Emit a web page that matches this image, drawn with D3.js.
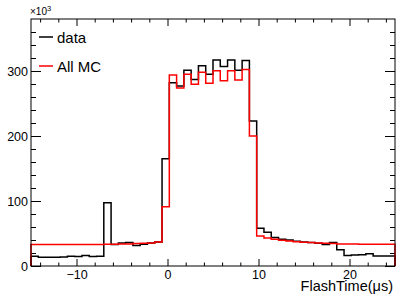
<!DOCTYPE html>
<html>
<head>
<meta charset="utf-8">
<script src="https://cdn.jsdelivr.net/npm/d3@7"></script>
<style>
	body { margin: 0; background: #fff; }
	svg { display: block; font-family: 'Liberation Sans', Arial, sans-serif; }
</style>
</head>
<body>
<script>
// data (counts in units of 10^3, 50 bins of 0.8 us from -15 to 25)
var binLow = -15;
var binWidth = 0.8;
var dataCounts = [
	15, 13.5, 13.5, 13.5, 14, 15, 14.5, 16, 14.5, 15,
	97.5, 33, 35.5, 36, 31.5, 33.5, 35.5, 37, 165, 282,
	277, 301, 287, 308, 295, 317, 307, 317, 301, 316,
	223, 58, 52, 44, 41, 40, 38, 37, 36, 35,
	33, 36, 25, 16, 17, 17.5, 19, 15.5, 15.5, 15.5
];
var mcCounts = [
	33, 33, 33, 33, 33, 33, 33, 33, 33, 33,
	33.5, 33.5, 34, 34, 34.5, 35, 35.5, 37, 91, 294,
	274, 295, 279.5, 298, 281, 300.5, 285, 300.5, 286, 302.5,
	200, 46, 43, 41, 39.5, 38.5, 37.5, 36.5, 36, 35.5,
	35, 34.5, 34, 34, 34, 33.5, 33.5, 33.5, 33.5, 33.5
];
var xMajorTicks = [-10, 0, 10, 20];
var yMajorTicks = [0, 100, 200, 300];
var legendItems = [
	{ label: 'data', color: '#000' },
	{ label: 'All MC', color: '#ff0000' }
];

var margin = { top: 19, right: 1, bottom: 29, left: 31 };
var width = 396 - margin.left - margin.right;
var height = 295 - margin.top - margin.bottom;

var svg = d3.select('body')
	.append('svg')
	.attr('width', 396)
	.attr('height', 295);

var g = svg.append('g')
	.attr('transform', 'translate(' + margin.left + ',' + margin.top + ')');

var x = d3.scaleLinear().domain([-15, 25]).range([0, width]);
var y = d3.scaleLinear().domain([0, 380]).range([height, 0]);

// axes, ROOT style ticks inside the frame on all four sides
var xMinor = d3.range(-14, 25, 2).filter(function (v) { return v % 10 !== 0; });
var yMinor = d3.range(20, 380, 20).filter(function (v) { return v % 100 !== 0; });

function drawAxis (axis, transform, cls) {
	var a = g.append('g')
		.attr('class', cls)
		.attr('transform', transform)
		.call(axis);
	a.select('.domain').remove();
	a.selectAll('line').attr('stroke', '#000');
	return a;
}

drawAxis(d3.axisBottom(x).tickValues(xMajorTicks).tickSize(-7).tickPadding(4.5)
	.tickFormat(d3.format('d')), 'translate(0,' + height + ')', 'x axis');
drawAxis(d3.axisBottom(x).tickValues(xMinor).tickSize(-3.5).tickFormat(''), 'translate(0,' + height + ')', 'x minor');
drawAxis(d3.axisTop(x).tickValues(xMajorTicks).tickSize(-7).tickFormat(''), 'translate(0,0)', 'x2 axis');
drawAxis(d3.axisTop(x).tickValues(xMinor).tickSize(-3.5).tickFormat(''), 'translate(0,0)', 'x2 minor');

drawAxis(d3.axisLeft(y).tickValues(yMajorTicks).tickSize(-10).tickPadding(3),
	'translate(0,0)', 'y axis');
drawAxis(d3.axisLeft(y).tickValues(yMinor).tickSize(-5).tickFormat(''), 'translate(0,0)', 'y minor');
drawAxis(d3.axisRight(y).tickValues(yMajorTicks).tickSize(-10).tickFormat(''), 'translate(' + width + ',0)', 'y2 axis');
drawAxis(d3.axisRight(y).tickValues(yMinor).tickSize(-5).tickFormat(''), 'translate(' + width + ',0)', 'y2 minor');

svg.selectAll('.axis text')
	.attr('font-size', '12.5px')
	.attr('font-family', "'Liberation Sans', Arial, sans-serif")
	.attr('fill', '#000');

// histogram outline, closed to zero at both ends
function histPath (counts) {
	var pts = [[x(binLow), y(0)]];
	counts.forEach(function (c, i) {
		var lo = binLow + i * binWidth;
		pts.push([x(lo), y(c)]);
		pts.push([x(lo + binWidth), y(c)]);
	});
	pts.push([x(binLow + counts.length * binWidth), y(0)]);
	return d3.line()(pts);
}

g.append('path')
	.attr('d', histPath(dataCounts))
	.attr('fill', 'none')
	.attr('stroke', '#000')
	.attr('stroke-width', 1.5);

g.append('path')
	.attr('d', histPath(mcCounts))
	.attr('fill', 'none')
	.attr('stroke', '#ff0000')
	.attr('stroke-width', 1.5);

// frame
g.append('rect')
	.attr('x', 0)
	.attr('y', 0)
	.attr('width', width)
	.attr('height', height)
	.attr('fill', 'none')
	.attr('stroke', '#000')
	.attr('stroke-width', 1);

// exponent label
var expo = svg.append('text')
	.attr('x', margin.left - 1)
	.attr('y', 15)
	.attr('font-size', '10px')
	.attr('fill', '#000')
	.text('×10');
expo.append('tspan')
	.attr('dy', -4)
	.attr('font-size', '7.5px')
	.text('3');

// axis title
svg.append('text')
	.attr('x', 393)
	.attr('y', 291)
	.attr('text-anchor', 'end')
	.attr('font-size', '14.5px')
	.attr('fill', '#000')
	.text('FlashTime(μs)');

// legend
var legend = svg.selectAll('.legend')
	.data(legendItems).enter()
	.append('g')
	.attr('class', 'legend')
	.attr('transform', function (d, i) { return 'translate(39,' + (37 + i * 29) + ')'; });

legend.append('line')
	.attr('x1', 0)
	.attr('x2', 14)
	.attr('stroke', function (d) { return d.color; })
	.attr('stroke-width', 1.5);

legend.append('text')
	.attr('x', 18)
	.attr('y', 5.5)
	.attr('font-size', '15px')
	.attr('fill', '#000')
	.text(function (d) { return d.label; });
</script>
</body>
</html>
